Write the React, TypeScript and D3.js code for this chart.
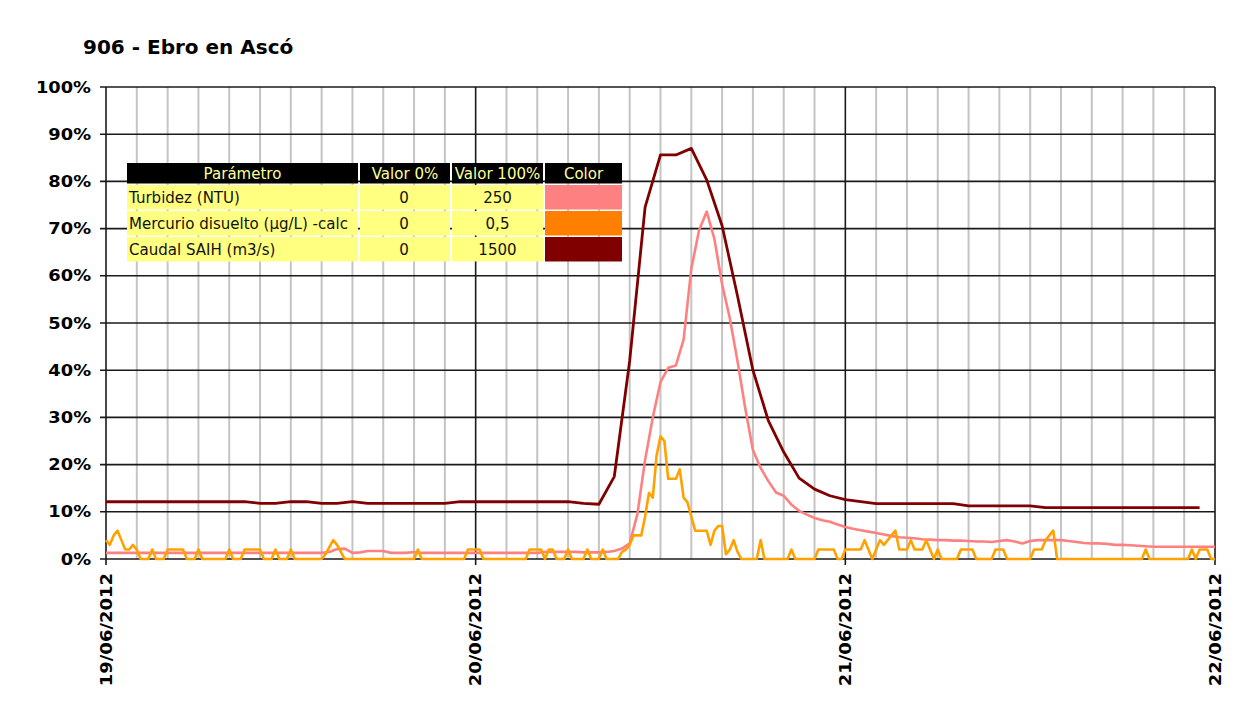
import React from 'react';
import * as d3 from 'd3';

// ---------------- DATA ----------------
const chartTitle = '906 - Ebro en Ascó';
const startDate = new Date(2012, 5, 19, 0, 0, 0);
const endDate = new Date(2012, 5, 22, 0, 0, 0);
const xTickDates = [
  new Date(2012, 5, 19),
  new Date(2012, 5, 20),
  new Date(2012, 5, 21),
  new Date(2012, 5, 22),
];
const yTickValues = [0, 10, 20, 30, 40, 50, 60, 70, 80, 90, 100];

const tableHeaders = ['Parámetro', 'Valor 0%', 'Valor 100%', 'Color'];
const paramNames = ['Turbidez (NTU)', 'Mercurio disuelto (µg/L) -calc', 'Caudal SAIH (m3/s)'];
const paramMinLabels = ['0', '0', '0'];
const paramMaxLabels = ['250', '0,5', '1500'];
const paramMaxValues = [250, 0.5, 1500];
const paramSwatchColors = ['#FF8080', '#FF8000', '#800000'];
const lineColors = ['#FF8080', '#FFA200', '#800000'];

// Turbidez (NTU), one value every 30 minutes from 19/06/2012 00:00
const turbidezStepMinutes = 30;
const turbidez = [
  3.25, 3.25, 3.25, 3.25, 3.25, 3.25, 3.25, 3.25, 3.25, 3.25, 3.25, 3.25,
  3.25, 3.25, 3.25, 3.25, 3.25, 3.25, 3.25, 3.25, 3.25, 3.25, 3.25, 3.25,
  3.25, 3.25, 3.25, 3.25, 3.25, 3.75, 5.25, 5.5, 3.25, 3.5, 4.25, 4.25,
  4.25, 3.25, 3.25, 3.25, 3.75, 3.25, 3.25, 3.25, 3.25, 3.25, 3.25, 3.25,
  3.25, 3.25, 3.25, 3.25, 3.25, 3.25, 3.25, 3.25, 3.25, 3.75, 3.75, 3.75,
  3.75, 3.75, 3.5, 3.5, 3.5, 3.75, 4.25, 5.5, 8.25, 23.75, 52.5, 75,
  93.75, 101.25, 102.5, 116.25, 153.75, 174, 184, 169.5, 145.5, 127.5, 104.75, 80,
  57.75, 48.25, 41.25, 35.25, 33.5, 28.75, 25.5, 23.5, 21.75, 20.5, 19.75, 18.25,
  17, 16, 15.25, 14.5, 13.75, 13, 12.25, 11.5, 11.25, 11, 10.5, 10.25,
  10, 10, 9.75, 9.75, 9.5, 9.25, 9.25, 9, 9.5, 10, 9.25, 8.25,
  9.5, 10, 10, 10, 10, 9.5, 9, 8.5, 8.25, 8.25, 8, 7.5,
  7.5, 7.25, 7, 6.75, 6.5, 6.5, 6.5, 6.5, 6.5, 6.5, 6.5, 6.5,
  6.5,
];

// Mercurio disuelto (µg/L), one value every 15 minutes
const mercurioStepMinutes = 15;
const mercurio = [
  0.02, 0.015, 0.025, 0.03, 0.02, 0.01, 0.01, 0.015, 0.01, 0, 0, 0, 0.01, 0, 0, 0,
  0.01, 0.01, 0.01, 0.01, 0.01, 0, 0, 0, 0.01, 0, 0, 0, 0, 0, 0, 0,
  0.01, 0, 0, 0, 0.01, 0.01, 0.01, 0.01, 0.01, 0, 0, 0, 0.01, 0, 0, 0,
  0.01, 0, 0, 0, 0, 0, 0, 0, 0, 0.005, 0.0125, 0.02, 0.015, 0.0075, 0, 0,
  0, 0, 0, 0, 0, 0, 0, 0, 0, 0, 0, 0, 0, 0, 0, 0,
  0, 0.01, 0, 0, 0, 0, 0, 0, 0, 0, 0, 0, 0, 0, 0.01, 0.01,
  0.01, 0.01, 0, 0, 0, 0, 0, 0, 0, 0, 0, 0, 0, 0, 0.01, 0.01,
  0.01, 0.01, 0, 0.01, 0.01, 0, 0, 0, 0.01, 0, 0, 0, 0, 0.01, 0, 0,
  0, 0.01, 0, 0, 0, 0, 0.0075, 0.01, 0.015, 0.025, 0.025, 0.025, 0.045, 0.07, 0.065, 0.11,
  0.13, 0.125, 0.085, 0.085, 0.085, 0.095, 0.065, 0.06, 0.045, 0.03, 0.03, 0.03, 0.03, 0.015, 0.03, 0.035,
  0.035, 0.005, 0.01, 0.02, 0.0075, 0, 0, 0, 0, 0, 0.02, 0, 0, 0, 0, 0,
  0, 0, 0.01, 0, 0, 0, 0, 0, 0, 0.01, 0.01, 0.01, 0.01, 0.01, 0, 0,
  0.01, 0.01, 0.01, 0.01, 0.01, 0.02, 0.01, 0, 0.01, 0.02, 0.015, 0.02, 0.025, 0.03, 0.01, 0.01,
  0.01, 0.02, 0.01, 0.01, 0.01, 0.02, 0.01, 0, 0.01, 0, 0, 0, 0, 0, 0.01, 0.01,
  0.01, 0.01, 0, 0, 0, 0, 0, 0.01, 0.01, 0.01, 0, 0, 0, 0, 0, 0,
  0, 0.01, 0.01, 0.01, 0.02, 0.025, 0.03, 0, 0, 0, 0, 0, 0, 0, 0, 0,
  0, 0, 0, 0, 0, 0, 0, 0, 0, 0, 0, 0, 0, 0, 0.01, 0,
  0, 0, 0, 0, 0, 0, 0, 0, 0, 0, 0.01, 0, 0.01, 0.01, 0.01, 0,
  0,
];

// Caudal SAIH (m3/s), one value every hour
const caudalStepMinutes = 60;
const caudal = [
  182, 182, 182, 182, 182, 182, 182, 182, 182, 182, 177, 177,
  182, 182, 177, 177, 182, 177, 177, 177, 177, 177, 177, 182,
  182, 182, 182, 182, 182, 182, 182, 177, 174, 262, 630, 1118,
  1284, 1284, 1305, 1205, 1059, 836, 600, 440, 340, 257, 222, 201,
  189, 182, 176, 176, 176, 176, 176, 176, 169, 169, 169, 169,
  169, 163, 163, 163, 163, 163, 163, 163, 163, 163, 163, 163,
];

// ---------------- CHART ----------------
const WIDTH = 1256;
const HEIGHT = 713;
const PLOT = { left: 106, right: 1215, top: 87, bottom: 559 };
const FONT = '"DejaVu Sans", Verdana, sans-serif';

export default function App() {
  const x = d3.scaleTime().domain([startDate, endDate]).range([PLOT.left, PLOT.right]);
  const y = d3.scaleLinear().domain([0, 100]).range([PLOT.bottom, PLOT.top]);

  const minorTimes = x.ticks(d3.timeHour.every(2) as d3.TimeInterval).filter(
    (d) => d.getHours() !== 0
  );

  const series = [
    { values: turbidez, step: turbidezStepMinutes, max: paramMaxValues[0], color: lineColors[0], width: 2.6 },
    { values: mercurio, step: mercurioStepMinutes, max: paramMaxValues[1], color: lineColors[1], width: 2.6 },
    { values: caudal, step: caudalStepMinutes, max: paramMaxValues[2], color: lineColors[2], width: 2.8 },
  ];

  const line = d3
    .line<[number, number]>()
    .x((d) => d[0])
    .y((d) => d[1]);

  const paths = series.map((s) => {
    const pts: [number, number][] = s.values.map((v, i) => [
      x(new Date(startDate.getTime() + i * s.step * 60000)),
      y((v / s.max) * 100),
    ]);
    return { d: line(pts) || '', color: s.color, width: s.width };
  });

  const fmt = d3.timeFormat('%d/%m/%Y');

  // legend table geometry
  const cols = [
    { x: 127, w: 231 },
    { x: 360, w: 90 },
    { x: 452, w: 91 },
    { x: 545, w: 77 },
  ];
  const header = { y: 163, h: 20.5 };
  const rows = [185, 211, 237];
  const rowH = 24.5;
  const textScale = 'scale(0.94,1)';

  return (
    <svg
      width={WIDTH}
      height={HEIGHT}
      style={{ position: 'absolute', left: 0, top: 0, background: '#fff' }}
      fontFamily={FONT}
    >
      <rect x={0} y={0} width={WIDTH} height={HEIGHT} fill="#fff" />
      <text x={83} y={54} fontSize={20} fontWeight="bold" fill="#000">
        {chartTitle}
      </text>

      {/* minor vertical gridlines */}
      {minorTimes.map((t, i) => (
        <line
          key={'mv' + i}
          x1={x(t)}
          x2={x(t)}
          y1={PLOT.top}
          y2={PLOT.bottom}
          stroke="#C4C4C4"
          strokeWidth={2}
        />
      ))}
      {/* horizontal gridlines */}
      {yTickValues.map((v) => (
        <line
          key={'h' + v}
          x1={PLOT.left - 6}
          x2={PLOT.right}
          y1={y(v)}
          y2={y(v)}
          stroke="#1a1a1a"
          strokeWidth={1.6}
        />
      ))}
      {/* major vertical lines (days) */}
      {xTickDates.map((t, i) => (
        <line
          key={'mj' + i}
          x1={x(t)}
          x2={x(t)}
          y1={PLOT.top}
          y2={PLOT.bottom + 6}
          stroke="#1a1a1a"
          strokeWidth={1.6}
        />
      ))}

      {/* y labels */}
      {yTickValues.map((v) => (
        <text
          key={'yl' + v}
          transform={`translate(91,${y(v) + 5.5}) scale(1.19,1)`}
          textAnchor="end"
          fontSize={15}
          fontWeight="bold"
          fill="#000"
        >
          {v + '%'}
        </text>
      ))}

      {/* x labels */}
      {xTickDates.map((t, i) => (
        <text
          key={'xl' + i}
          transform={`translate(${x(t) + 5.5},573) rotate(-90) scale(1.2,1)`}
          textAnchor="end"
          fontSize={15}
          fontWeight="bold"
          fill="#000"
        >
          {fmt(t)}
        </text>
      ))}

      {/* series */}
      {paths.map((p, i) => (
        <path
          key={'s' + i}
          d={p.d}
          fill="none"
          stroke={p.color}
          strokeWidth={p.width}
          strokeLinejoin="round"
          strokeLinecap="butt"
        />
      ))}

      {/* legend table */}
      <g>
        {cols.map((c, ci) => (
          <g key={'hc' + ci}>
            <rect x={c.x} y={header.y} width={c.w} height={header.h} fill="#000" />
            <text
              transform={`translate(${c.x + c.w / 2},${header.y + 15.8}) ${textScale}`}
              textAnchor="middle"
              fontSize={16}
              fill="#FFFF99"
            >
              {tableHeaders[ci]}
            </text>
          </g>
        ))}
        {rows.map((ry, ri) => (
          <g key={'r' + ri}>
            <rect x={cols[0].x} y={ry} width={cols[0].w} height={rowH} fill="#FFFF80" />
            <rect x={cols[1].x} y={ry} width={cols[1].w} height={rowH} fill="#FFFF80" />
            <rect x={cols[2].x} y={ry} width={cols[2].w} height={rowH} fill="#FFFF80" />
            <rect x={cols[3].x} y={ry} width={cols[3].w} height={rowH} fill={paramSwatchColors[ri]} />
            <text
              transform={`translate(${cols[0].x + 2},${ry + 18}) ${textScale}`}
              fontSize={16}
              fill="#111"
            >
              {paramNames[ri]}
            </text>
            <text
              transform={`translate(${cols[1].x + cols[1].w / 2 - 1},${ry + 18}) ${textScale}`}
              textAnchor="middle"
              fontSize={16}
              fill="#111"
            >
              {paramMinLabels[ri]}
            </text>
            <text
              transform={`translate(${cols[2].x + cols[2].w / 2},${ry + 18}) ${textScale}`}
              textAnchor="middle"
              fontSize={16}
              fill="#111"
            >
              {paramMaxLabels[ri]}
            </text>
          </g>
        ))}
      </g>
    </svg>
  );
}
